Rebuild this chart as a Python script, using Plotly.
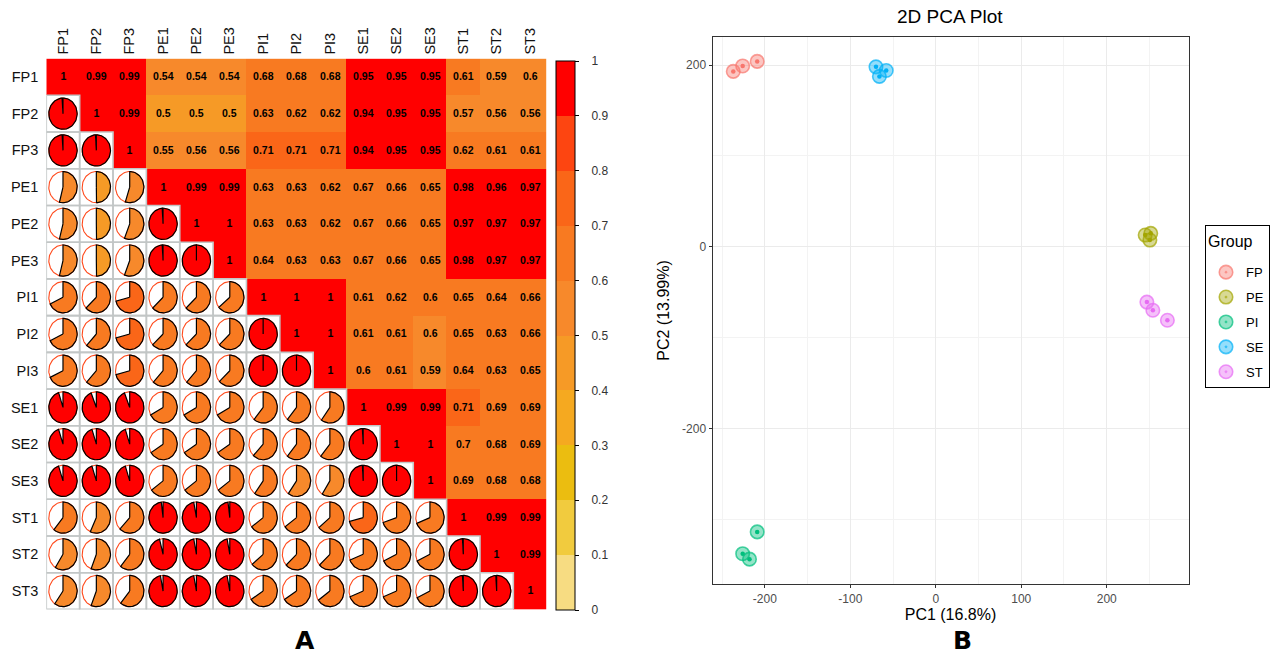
import numpy as np
import plotly.graph_objects as go

# ---------------- data ----------------
samples = ["FP1", "FP2", "FP3", "PE1", "PE2", "PE3", "PI1", "PI2", "PI3",
           "SE1", "SE2", "SE3", "ST1", "ST2", "ST3"]

# upper triangle of the correlation matrix, each row starting at the diagonal
corr_rows = [
    [1, 0.99, 0.99, 0.54, 0.54, 0.54, 0.68, 0.68, 0.68, 0.95, 0.95, 0.95, 0.61, 0.59, 0.598],
    [1, 0.99, 0.498, 0.498, 0.498, 0.63, 0.62, 0.62, 0.94, 0.95, 0.95, 0.57, 0.56, 0.56],
    [1, 0.55, 0.56, 0.56, 0.71, 0.71, 0.71, 0.94, 0.95, 0.95, 0.62, 0.61, 0.61],
    [1, 0.99, 0.99, 0.63, 0.63, 0.62, 0.67, 0.66, 0.65, 0.98, 0.96, 0.97],
    [1, 1, 0.63, 0.63, 0.62, 0.67, 0.66, 0.65, 0.97, 0.97, 0.97],
    [1, 0.64, 0.63, 0.63, 0.67, 0.66, 0.65, 0.98, 0.97, 0.97],
    [1, 1, 1, 0.61, 0.62, 0.601, 0.65, 0.64, 0.66],
    [1, 1, 0.61, 0.61, 0.598, 0.65, 0.63, 0.66],
    [1, 0.601, 0.61, 0.59, 0.64, 0.63, 0.65],
    [1, 0.99, 0.99, 0.71, 0.69, 0.69],
    [1, 1, 0.699, 0.68, 0.69],
    [1, 0.69, 0.68, 0.68],
    [1, 0.99, 0.99],
    [1, 0.99],
    [1],
]

colorbar_ticks = [0, 0.1, 0.2, 0.3, 0.4, 0.5, 0.6, 0.7, 0.8, 0.9, 1]
bin_colors = ["#F7DC82", "#F1CB3E", "#EBBD10", "#F5A920", "#F69A26",
              "#F7892B", "#F87A21", "#FA6618", "#FD4511", "#FF0000"]

# PCA scores
groups = ["FP", "PE", "PI", "SE", "ST"]
group_colors = ["#F8766D", "#A3A500", "#00BF7D", "#00B0F6", "#E76BF3"]
pc1 = {
    "FP": [-237, -226, -209],
    "PE": [245, 251.5, 250.5],
    "PI": [-209, -226, -218],
    "SE": [-70, -58, -66],
    "ST": [247, 254, 271],
}
pc2 = {
    "FP": [193, 199, 204],
    "PE": [12.8, 14.7, 7.3],
    "PI": [-314, -338, -344],
    "SE": [198, 194, 187.5],
    "ST": [-61, -70, -81],
}
pc1_ticks = [-200, -100, 0, 100, 200]
pc2_ticks = [-200, 0, 200]

# ---------------- build matrix ----------------
n = len(samples)
M = np.zeros((n, n))
for i, row in enumerate(corr_rows):
    for k, v in enumerate(row):
        j = i + k
        M[i, j] = v
        M[j, i] = v


def fmt(v):
    return f"{round(v, 2):g}"


z = [[M[i, j] if j >= i else None for j in range(n)] for i in range(n)]
txt = [[fmt(M[i, j]) if j >= i else "" for j in range(n)] for i in range(n)]

cscale = []
for b, c in enumerate(bin_colors):
    cscale.append([b / 10, c])
    cscale.append([(b + 1) / 10, c])

W, H = 1270, 654
mx0, mx1, my0, my1 = 46.3, 546.7, 58.6, 609.4
NB = "\u00a0"

fig = go.Figure()

fig.add_trace(go.Heatmap(
    z=z, x=list(range(n)), y=list(range(n)), text=txt, texttemplate="%{text}",
    textfont=dict(family="Liberation Sans", size=10.5, color="black", weight="bold"),
    colorscale=cscale, zmin=0, zmax=1, hoverinfo="skip",
    colorbar=dict(x=556 / W, xanchor="left", xpad=0, ypad=0, thickness=19,
                  len=549, lenmode="pixels", y=1 - (61 + 610) / 2 / H, yanchor="middle",
                  outlinewidth=1, outlinecolor="black", ticks="outside", ticklen=4,
                  tickcolor="black", tickvals=colorbar_ticks,
                  ticktext=[NB * 3 + f"{t:g}" for t in colorbar_ticks],
                  tickfont=dict(family="Liberation Sans", size=12, color="#333333")),
    xaxis="x", yaxis="y", showscale=True,
))

# grid of lower-triangle cells
gx, gy = [], []
for i in range(n):
    for j in range(i):
        gx += [j - 0.5, j + 0.5, j + 0.5, j - 0.5, j - 0.5, None]
        gy += [i - 0.5, i - 0.5, i + 0.5, i + 0.5, i - 0.5, None]
fig.add_trace(go.Scatter(x=gx, y=gy, mode="lines", line=dict(color="#C2C6C6", width=1.6),
                         hoverinfo="skip", showlegend=False, xaxis="x", yaxis="y"))

# pies
r = 0.425
ox, oy = [], []
sectors = {b: ([], []) for b in range(10)}
full_t = np.linspace(0, 2 * np.pi, 90)
for i in range(n):
    for j in range(i):
        v = M[i, j]
        b = min(int(v * 10), 9)
        ox += list(j + r * np.sin(full_t)) + [None]
        oy += list(i - r * np.cos(full_t)) + [None]
        t = np.linspace(0, v * 2 * np.pi, max(3, int(90 * v)))
        sx, sy = sectors[b]
        sx += [j] + list(j + r * np.sin(t)) + [j, None]
        sy += [i] + list(i - r * np.cos(t)) + [i, None]

fig.add_trace(go.Scatter(x=ox, y=oy, mode="lines", line=dict(color="#FF4A1C", width=1.1),
                         hoverinfo="skip", showlegend=False, xaxis="x", yaxis="y"))
for b in range(10):
    sx, sy = sectors[b]
    if sx:
        fig.add_trace(go.Scatter(x=sx, y=sy, mode="lines", fill="toself", fillcolor=bin_colors[b],
                                 line=dict(color="black", width=1.2),
                                 hoverinfo="skip", showlegend=False, xaxis="x", yaxis="y"))


def rgba(hexc, a):
    h = hexc.lstrip("#")
    return f"rgba({int(h[0:2],16)},{int(h[2:4],16)},{int(h[4:6],16)},{a})"


for g, c in zip(groups, group_colors):
    fig.add_trace(go.Scatter(
        x=pc1[g], y=pc2[g], mode="markers", name=g, legendgroup=g,
        marker=dict(symbol="circle-dot", size=13.5, color=rgba(c, 0.42),
                    line=dict(color=rgba(c, 0.7), width=1.6)),
        xaxis="x2", yaxis="y2",
    ))
    fig.add_trace(go.Scatter(
        x=pc1[g], y=pc2[g], mode="markers", name=g, legendgroup=g, showlegend=False,
        marker=dict(symbol="circle", size=4.5, color=c, line=dict(width=0)),
        hoverinfo="skip", xaxis="x2", yaxis="y2",
    ))

fig.update_layout(
    width=W, height=H,
    margin=dict(l=0, r=0, t=0, b=0, autoexpand=False),
    paper_bgcolor="white", plot_bgcolor="white",
    font=dict(family="Liberation Sans", color="black"),
    xaxis=dict(domain=[mx0 / W, mx1 / W], range=[-0.5, n - 0.5], side="top",
               tickvals=list(range(n)), ticktext=samples, tickangle=-90,
               showgrid=False, zeroline=False, showline=False, ticks="",
               ticklabelstandoff=3,
               tickfont=dict(size=14.5, color="#111111"), fixedrange=True),
    yaxis=dict(domain=[1 - my1 / H, 1 - my0 / H], range=[n - 0.5, -0.5],
               tickvals=list(range(n)), ticktext=samples,
               showgrid=False, zeroline=False, showline=False, ticks="",
               ticklabelstandoff=7,
               tickfont=dict(size=14.5, color="#111111"), fixedrange=True),
    xaxis2=dict(domain=[712.5 / W, 1188.5 / W], range=[-261.3, 295.7], anchor="y2",
                tickvals=pc1_ticks, ticktext=[str(t) for t in pc1_ticks],
                showgrid=True, gridcolor="#EBEBEB", gridwidth=1.1,
                minor=dict(dtick=50, tick0=0, showgrid=True, gridcolor="#F3F3F3", gridwidth=0.6),
                zeroline=False, showline=True, mirror=True, linecolor="#333333", linewidth=1,
                ticks="outside", ticklen=3, tickcolor="#333333",
                tickfont=dict(size=12, color="#4D4D4D"),
                title=dict(text="PC1 (16.8%)", font=dict(size=16, color="black"), standoff=3)),
    yaxis2=dict(domain=[1 - 584.3 / H, 1 - 36.7 / H], range=[-371.7, 231.2], anchor="x2",
                tickvals=pc2_ticks, ticktext=[str(t) for t in pc2_ticks],
                showgrid=True, gridcolor="#EBEBEB", gridwidth=1.1,
                minor=dict(dtick=100, tick0=0, showgrid=True, gridcolor="#F3F3F3", gridwidth=0.6),
                zeroline=False, showline=True, mirror=True, linecolor="#333333", linewidth=1,
                ticks="outside", ticklen=3, tickcolor="#333333",
                tickfont=dict(size=12, color="#4D4D4D"),
                title=dict(text="PC2 (13.99%)", font=dict(size=16, color="black"), standoff=8)),
    legend=dict(x=1205 / W, y=1 - 225 / H, xanchor="left", yanchor="top",
                bordercolor="black", borderwidth=1, bgcolor="white",
                title=dict(text=NB + "<br><span style='font-size:16px'>Group</span><br>" + NB,
                           font=dict(size=8, color="black")),
                font=dict(size=13, color="black"), tracegroupgap=5),
    annotations=[
        dict(text="2D PCA Plot", x=950 / W, y=1 - 17 / H, xref="paper", yref="paper",
             showarrow=False, font=dict(size=19, color="black"), xanchor="center", yanchor="middle"),
        dict(text="<b>A</b>", x=305 / W, y=1 - 640 / H, xref="paper", yref="paper",
             showarrow=False, font=dict(size=25, color="black", family="DejaVu Sans"),
             xanchor="center", yanchor="middle"),
        dict(text="<b>B</b>", x=962 / W, y=1 - 640 / H, xref="paper", yref="paper",
             showarrow=False, font=dict(size=25, color="black", family="DejaVu Sans"),
             xanchor="center", yanchor="middle"),
    ],
)

fig.write_html("out.html")
